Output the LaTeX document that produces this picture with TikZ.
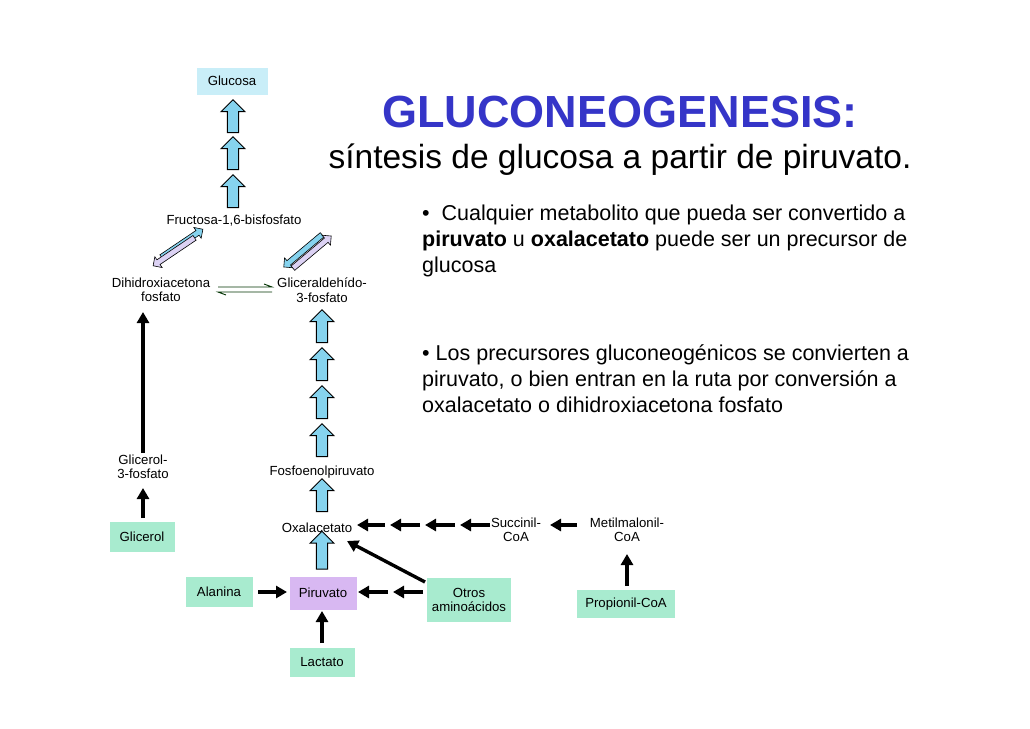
\documentclass[tikz,border=0pt]{standalone}
\usepackage{fontspec}
\setmainfont{Liberation Sans}
\usetikzlibrary{shapes.arrows,arrows.meta}
\definecolor{gbox}{HTML}{A8EBCF}
\definecolor{bbox}{HTML}{C9EEF8}
\definecolor{pbox}{HTML}{D8B8F2}
\definecolor{barrow}{HTML}{86D3EE}
\definecolor{larrow}{HTML}{DCD2F4}
\definecolor{ttl}{HTML}{3535C8}
\begin{document}
\begin{tikzpicture}[x=1pt,y=-1pt,
  lab/.style={font=\fontsize{13.2}{14.5}\selectfont,align=center,inner sep=1pt},
  box/.style={lab,minimum height=29pt,inner sep=4pt},
  blk/.style={single arrow,draw=black,line width=0.9pt,fill=barrow,minimum width=24pt,single arrow head extend=5pt,single arrow head indent=0pt,minimum height=33pt,inner sep=4pt,rotate=90},
  thin/.style={single arrow,draw=black,line width=0.6pt,minimum width=13pt,single arrow head extend=3pt,minimum height=50pt,inner sep=2pt},
  ar/.style={-{Triangle[length=11pt,width=12pt]},line width=3.4pt},
  txt/.style={font=\fontsize{21.5}{26}\selectfont,align=left,anchor=north west,inner sep=0pt}]
\useasboundingbox (0,0) rectangle (1030,728);
\fill[white] (0,0) rectangle (1030,728);
\node[box,fill=bbox,minimum width=71pt,minimum height=27pt] (glu) at (232,81) {Glucosa};
\node[blk] (b1) at (233,119) {};
\node[blk] (b2) at (233,156) {};
\node[blk] (b3) at (233,194) {};
\node[lab] (fru) at (234,221) {Fructosa-1,6-bisfosfato};
\node[lab] (dha) at (161,290) {Dihidroxiacetona\\fosfato};
\node[lab] (gap) at (322,290) {Gliceraldehído-\\3-fosfato};
\node[thin,fill=barrow,rotate=34] (dl1) at (181,244) {};
\node[thin,fill=larrow,rotate=214] (dl2) at (175,251) {};
\node[thin,fill=barrow,rotate=-140] (dr1) at (304,250) {};
\node[thin,fill=larrow,rotate=40] (dr2) at (311,253) {};
\coordinate (e1) at (218,287); \coordinate (e2) at (272,287);
\coordinate (e3) at (218,292); \coordinate (e4) at (272,292);
\draw[line width=0.9pt,draw=black!80!green] (e1) -- (e2) -- ++(-8,-3);
\draw[line width=0.9pt,draw=black!80!green] (e4) -- (e3) -- ++(8,3);
\node[blk] (b4) at (322,329) {};
\node[blk] (b5) at (322,367) {};
\node[blk] (b6) at (322,405) {};
\node[blk] (b7) at (322,443) {};
\node[lab] (g3p) at (143,467) {Glicerol-\\3-fosfato};
\node[box,fill=gbox,minimum width=65pt,minimum height=30pt] (gly) at (142,537) {Glicerol};
\coordinate (dhat) at (143,312);
\draw[ar] (143,453) -- (dhat);
\draw[ar] (143,518) -- (143,488);
\node[lab] (pep) at (322,472) {Fosfoenolpiruvato};
\node[blk] (b8) at (322,498) {};
\node[lab] (oxa) at (317,528) {Oxalacetato};
\node[blk,minimum height=38pt] (b9) at (322,553) {};
\node[lab] (suc) at (516,530) {Succinil-\\CoA};
\node[lab] (met) at (627,530) {Metilmalonil-\\CoA};
\node[box,fill=gbox,minimum width=98pt,minimum height=28pt] (pro) at (626,604) {Propionil-CoA};
\node[box,fill=gbox,minimum width=67pt,minimum height=30pt] (ala) at (219,592) {Alanina};
\node[box,fill=pbox,minimum width=67pt,minimum height=33pt] (pir) at (323,593) {Piruvato};
\node[box,fill=gbox,minimum width=84pt,minimum height=44pt] (otr) at (469,600) {Otros\\aminoácidos};
\node[box,fill=gbox,minimum width=65pt,minimum height=29pt] (lac) at (322,662) {Lactato};
\coordinate (s1) at (490,525); \coordinate (s2) at (460,525);
\coordinate (s3) at (455,525); \coordinate (s4) at (425,525);
\coordinate (s5) at (420,525); \coordinate (s6) at (390,525);
\coordinate (s7) at (385,525); \coordinate (s8) at (357,525);
\draw[ar] (s1) -- (s2); \draw[ar] (s3) -- (s4);
\draw[ar] (s5) -- (s6); \draw[ar] (s7) -- (s8);
\draw[ar] (577,525) -- (550,525);
\draw[ar] (627,586) -- (627,554);
\draw[ar] (258,592) -- (287,592);
\coordinate (o1) at (423,592); \coordinate (o2) at (393,592);
\coordinate (o3) at (388,592); \coordinate (o4) at (358,592);
\draw[ar] (o1) -- (o2); \draw[ar] (o3) -- (o4);
\draw[ar] (425,582) -- (347,541);
\coordinate (l1) at (322,643); \coordinate (l2) at (322,611);
\draw[ar] (l1) -- (l2);
\node[font=\bfseries\fontsize{45}{48}\selectfont,text=ttl] (tit) at (620,112) {GLUCONEOGENESIS:};
\node[font=\fontsize{33.5}{36}\selectfont] (sub) at (620,160) {síntesis de glucosa a partir de piruvato.};
\node[txt] (t1) at (422,205) {•\ \ Cualquier metabolito que pueda ser convertido a\\\textbf{piruvato} u \textbf{oxalacetato} puede ser un precursor de\\glucosa};
\node[txt] (t2) at (422,344) {• Los precursores gluconeogénicos se convierten a\\piruvato, o bien entran en la ruta por conversión a\\oxalacetato o dihidroxiacetona fosfato};
\end{tikzpicture}
\end{document}
